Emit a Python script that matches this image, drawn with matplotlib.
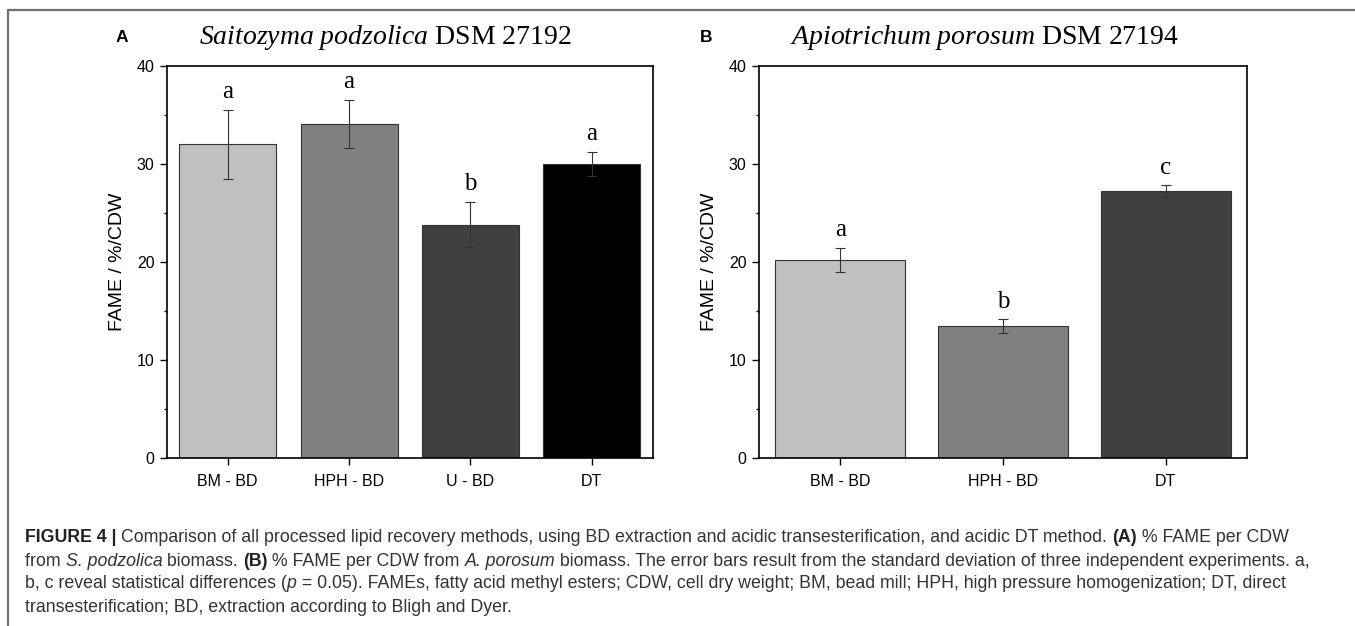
import matplotlib
matplotlib.use("Agg")
import matplotlib.pyplot as plt
from matplotlib.lines import Line2D
from matplotlib.ticker import MultipleLocator

plt.rcParams["mathtext.fontset"] = "custom"
plt.rcParams["mathtext.rm"] = "Liberation Serif"
plt.rcParams["mathtext.it"] = "Liberation Serif:italic"

# panel A: Saitozyma podzolica
cats_a = ["BM - BD", "HPH - BD", "U - BD", "DT"]
fame_a = [32.0, 34.1, 23.8, 30.0]
err_a = [3.5, 2.45, 2.3, 1.2]
sig_a = ["a", "a", "b", "a"]

# panel B: Apiotrichum porosum
cats_b = ["BM - BD", "HPH - BD", "DT"]
fame_b = [20.2, 13.4, 27.2]
err_b = [1.2, 0.7, 0.6]
sig_b = ["a", "b", "c"]

grays_a = ["#c0c0c0", "#808080", "#404040", "#000000"]
grays_b = ["#c0c0c0", "#808080", "#404040"]

W, H = 1355, 626
fig = plt.figure(figsize=(W / 100, H / 100), dpi=100)

sans = ["Liberation Sans", "DejaVu Sans"]
serif = ["Liberation Serif", "DejaVu Serif"]


def panel(rect, cats, vals, errs, sig, colors):
    ax = fig.add_axes(rect)
    x = list(range(1, len(cats) + 1))
    ax.bar(x, vals, width=0.8, color=colors, edgecolor="#333333", linewidth=0.8)
    ax.errorbar(x, vals, yerr=errs, fmt="none", ecolor="#333333",
                elinewidth=0.8, capsize=3.3, capthick=0.8)
    for xi, v, e, s in zip(x, vals, errs, sig):
        ax.annotate(s, xy=(xi, v + e), xytext=(0, 8.5), textcoords="offset points",
                    ha="center", va="baseline", fontsize=18, family=serif)
    ax.set_xlim(0.5, len(cats) + 0.5)
    ax.set_ylim(0, 40)
    ax.set_xticks(x)
    ax.set_xticklabels(cats, family=sans, fontsize=11.5)
    ax.yaxis.set_major_locator(MultipleLocator(10))
    ax.yaxis.set_minor_locator(MultipleLocator(5))
    for lab in ax.get_yticklabels():
        lab.set_family(sans)
        lab.set_fontsize(11.5)
    ax.tick_params(axis="both", which="major", direction="out", length=5,
                   width=1.0, top=False, right=False)
    ax.tick_params(axis="y", which="major", pad=4)
    ax.tick_params(axis="x", which="major", pad=7)
    ax.tick_params(axis="y", which="minor", direction="out", length=2.2, width=1.0)
    ax.tick_params(axis="x", which="minor", bottom=False)
    for sp in ax.spines.values():
        sp.set_linewidth(1.2)
    ax.set_ylabel("FAME / %/CDW", family=sans, fontsize=14, labelpad=8)
    return ax


ax_a = panel([167 / W, 1 - 457.5 / H, 485.5 / W, 391.5 / H],
             cats_a, fame_a, err_a, sig_a, grays_a)
ax_b = panel([759 / W, 1 - 457.5 / H, 488 / W, 391.5 / H],
             cats_b, fame_b, err_b, sig_b, grays_b)

# panel titles and letters
fig.text(385 / W, 1 - 37 / H, r"$\it{Saitozyma\ podzolica}$ DSM 27192",
         ha="center", va="center", fontsize=20, family=serif)
fig.text(984 / W, 1 - 37 / H, r"$\it{Apiotrichum\ porosum}$ DSM 27194",
         ha="center", va="center", fontsize=20, family=serif)
fig.text(122 / W, 1 - 37 / H, "A", ha="center", va="center",
         fontsize=12.5, weight="bold", family=sans)
fig.text(706 / W, 1 - 37 / H, "B", ha="center", va="center",
         fontsize=12.5, weight="bold", family=sans)

# outer frame (left and top)
fig.add_artist(Line2D([8 / W, 8 / W, 1], [0, 1 - 10 / H, 1 - 10 / H],
                      transform=fig.transFigure, color="#6e6e6e", linewidth=1.6))

# caption, line by line with mixed styles
caption = [
    [("FIGURE 4 | ", "bold", "normal"),
     ("Comparison of all processed lipid recovery methods, using BD extraction and acidic "
      "transesterification, and acidic DT method. ", "normal", "normal"),
     ("(A)", "bold", "normal"), (" % FAME per CDW", "normal", "normal")],
    [("from ", "normal", "normal"), ("S. podzolica", "normal", "italic"),
     (" biomass. ", "normal", "normal"), ("(B)", "bold", "normal"),
     (" % FAME per CDW from ", "normal", "normal"), ("A. porosum", "normal", "italic"),
     (" biomass. The error bars result from the standard deviation of three independent "
      "experiments. a,", "normal", "normal")],
    [("b, c reveal statistical differences (", "normal", "normal"), ("p", "normal", "italic"),
     (" = 0.05). FAMEs, fatty acid methyl esters; CDW, cell dry weight; BM, bead mill; HPH, "
      "high pressure homogenization; DT, direct", "normal", "normal")],
    [("transesterification; BD, extraction according to Bligh and Dyer.", "normal", "normal")],
]
line_y = [538, 561, 584, 607]
for parts, yy in zip(caption, line_y):
    prev = None
    for txt, wt, st in parts:
        kw = dict(fontsize=12.8, family=sans, weight=wt, style=st,
                  color="#222222" if wt == "bold" else "#333333")
        if prev is None:
            prev = fig.text(25 / W, 1 - yy / H, txt, ha="left", va="center", **kw)
        else:
            prev = fig.add_artist(plt.Annotation(txt, xy=(1, 0), xycoords=prev,
                                                 ha="left", va="bottom", **kw))

fig.savefig("out.png", dpi=100)
